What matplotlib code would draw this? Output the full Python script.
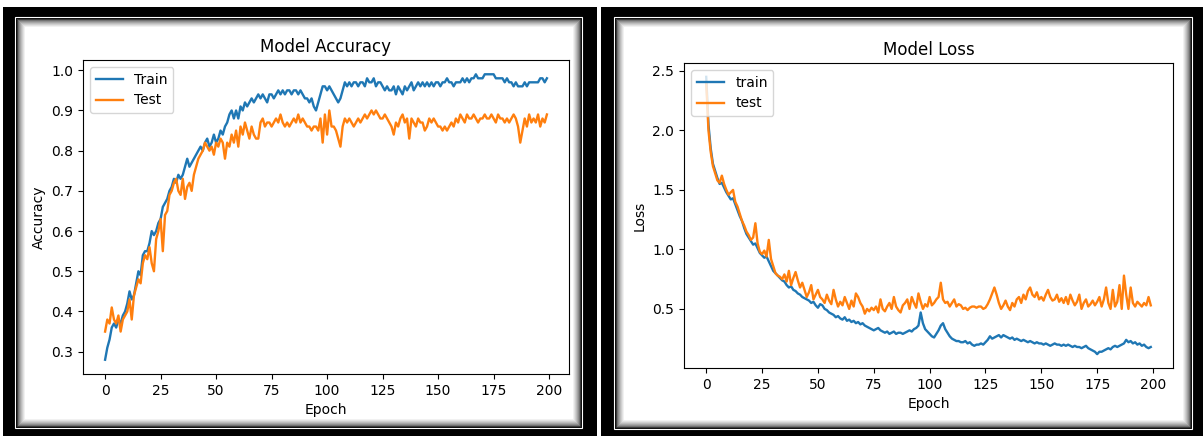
import numpy as np
import matplotlib
matplotlib.use("Agg")
import matplotlib.pyplot as plt
from matplotlib.patches import Rectangle

# values, one per epoch (0..199)
train_acc = [
    0.28, 0.31, 0.33, 0.36, 0.37, 0.36, 0.38, 0.37, 0.39, 0.40,
    0.42, 0.45, 0.43, 0.44, 0.47, 0.50, 0.49, 0.54, 0.55, 0.55,
    0.57, 0.60, 0.59, 0.60, 0.62, 0.63, 0.66, 0.67, 0.68, 0.70,
    0.71, 0.73, 0.72, 0.74, 0.73, 0.74, 0.76, 0.78, 0.76, 0.77,
    0.78, 0.79, 0.80, 0.81, 0.80, 0.82, 0.83, 0.81, 0.82, 0.84,
    0.82, 0.83, 0.85, 0.84, 0.86, 0.87, 0.89, 0.90, 0.88, 0.90,
    0.88, 0.91, 0.90, 0.92, 0.91, 0.92, 0.93, 0.92, 0.93, 0.94,
    0.93, 0.94, 0.93, 0.92, 0.94, 0.94, 0.93, 0.94, 0.95, 0.94,
    0.95, 0.94, 0.95, 0.95, 0.94, 0.95, 0.95, 0.94, 0.95, 0.94,
    0.93, 0.93, 0.92, 0.93, 0.91, 0.90, 0.92, 0.94, 0.96, 0.96,
    0.95, 0.96, 0.95, 0.94, 0.93, 0.92, 0.93, 0.95, 0.97, 0.96,
    0.97, 0.96, 0.97, 0.97, 0.96, 0.97, 0.97, 0.96, 0.98, 0.97,
    0.97, 0.98, 0.96, 0.97, 0.97, 0.96, 0.95, 0.96, 0.95, 0.95,
    0.96, 0.94, 0.96, 0.95, 0.94, 0.96, 0.95, 0.96, 0.97, 0.95,
    0.96, 0.97, 0.96, 0.97, 0.96, 0.97, 0.96, 0.97, 0.96, 0.97,
    0.97, 0.96, 0.97, 0.97, 0.98, 0.97, 0.97, 0.96, 0.97, 0.97,
    0.97, 0.98, 0.97, 0.98, 0.97, 0.98, 0.98, 0.99, 0.98, 0.98,
    0.98, 0.99, 0.99, 0.99, 0.99, 0.99, 0.98, 0.98, 0.98, 0.98,
    0.97, 0.98, 0.97, 0.97, 0.96, 0.97, 0.96, 0.96, 0.96, 0.97,
    0.96, 0.97, 0.97, 0.97, 0.97, 0.97, 0.98, 0.98, 0.97, 0.98,
]
test_acc = [
    0.35, 0.38, 0.37, 0.41, 0.38, 0.37, 0.39, 0.35, 0.38, 0.39,
    0.40, 0.43, 0.38, 0.44, 0.46, 0.48, 0.47, 0.52, 0.54, 0.53,
    0.56, 0.52, 0.50, 0.58, 0.60, 0.63, 0.55, 0.64, 0.65, 0.69,
    0.70, 0.72, 0.73, 0.70, 0.69, 0.73, 0.68, 0.71, 0.72, 0.70,
    0.74, 0.76, 0.78, 0.79, 0.80, 0.82, 0.81, 0.80, 0.81, 0.79,
    0.82, 0.81, 0.83, 0.82, 0.78, 0.82, 0.81, 0.84, 0.82, 0.85,
    0.81, 0.86, 0.84, 0.87, 0.85, 0.83, 0.86, 0.84, 0.83, 0.83,
    0.87, 0.88, 0.86, 0.87, 0.87, 0.86, 0.87, 0.88, 0.87, 0.89,
    0.87, 0.86, 0.87, 0.86, 0.87, 0.88, 0.87, 0.89, 0.87, 0.88,
    0.87, 0.86, 0.86, 0.85, 0.86, 0.86, 0.85, 0.88, 0.82, 0.89,
    0.84, 0.90, 0.86, 0.86, 0.85, 0.83, 0.81, 0.86, 0.88, 0.87,
    0.88, 0.87, 0.86, 0.87, 0.88, 0.87, 0.88, 0.89, 0.88, 0.89,
    0.90, 0.89, 0.90, 0.89, 0.88, 0.88, 0.89, 0.88, 0.87, 0.86,
    0.84, 0.87, 0.86, 0.88, 0.89, 0.87, 0.88, 0.83, 0.88, 0.87,
    0.86, 0.88, 0.87, 0.87, 0.85, 0.86, 0.88, 0.87, 0.88, 0.87,
    0.86, 0.86, 0.85, 0.86, 0.85, 0.86, 0.87, 0.86, 0.88, 0.87,
    0.89, 0.88, 0.87, 0.89, 0.88, 0.88, 0.89, 0.88, 0.87, 0.88,
    0.88, 0.89, 0.88, 0.88, 0.89, 0.88, 0.87, 0.89, 0.88, 0.88,
    0.87, 0.88, 0.87, 0.88, 0.89, 0.88, 0.86, 0.82, 0.85, 0.88,
    0.86, 0.89, 0.87, 0.88, 0.87, 0.89, 0.86, 0.88, 0.87, 0.89,
]
train_loss = [
    2.45, 2.05, 1.85, 1.72, 1.66, 1.60, 1.55, 1.56, 1.52, 1.48,
    1.45, 1.42, 1.43, 1.38, 1.33, 1.28, 1.24, 1.18, 1.13, 1.10,
    1.07, 1.04, 1.05, 1.01, 0.97, 0.95, 0.93, 0.94, 0.90, 0.86,
    0.82, 0.80, 0.78, 0.76, 0.74, 0.73, 0.70, 0.68, 0.69, 0.66,
    0.65, 0.63, 0.62, 0.60, 0.59, 0.58, 0.57, 0.55, 0.56, 0.53,
    0.51, 0.54, 0.53, 0.50, 0.49, 0.47, 0.46, 0.45, 0.43, 0.44,
    0.42, 0.41, 0.43, 0.40, 0.41, 0.39, 0.40, 0.38, 0.39, 0.37,
    0.38, 0.36, 0.35, 0.34, 0.33, 0.32, 0.33, 0.34, 0.32, 0.31,
    0.30, 0.31, 0.29, 0.30, 0.31, 0.29, 0.30, 0.30, 0.29, 0.30,
    0.31, 0.32, 0.31, 0.33, 0.34, 0.36, 0.47, 0.38, 0.33, 0.31,
    0.29, 0.27, 0.26, 0.29, 0.32, 0.36, 0.38, 0.33, 0.30, 0.27,
    0.25, 0.24, 0.23, 0.23, 0.22, 0.22, 0.23, 0.21, 0.22, 0.20,
    0.19, 0.20, 0.20, 0.21, 0.20, 0.22, 0.24, 0.27, 0.25, 0.26,
    0.27, 0.28, 0.26, 0.28, 0.27, 0.26, 0.25, 0.26, 0.24, 0.25,
    0.24, 0.23, 0.24, 0.23, 0.22, 0.23, 0.22, 0.21, 0.22, 0.21,
    0.21, 0.20, 0.21, 0.20, 0.19, 0.20, 0.21, 0.20, 0.20, 0.19,
    0.20, 0.19, 0.20, 0.19, 0.18, 0.19, 0.18, 0.18, 0.17, 0.18,
    0.19, 0.17, 0.16, 0.15, 0.14, 0.12, 0.14, 0.14, 0.15, 0.16,
    0.17, 0.16, 0.18, 0.19, 0.18, 0.19, 0.20, 0.21, 0.24, 0.22,
    0.23, 0.21, 0.22, 0.20, 0.21, 0.19, 0.20, 0.18, 0.17, 0.18,
]
test_loss = [
    2.40, 2.00, 1.82, 1.70, 1.64, 1.58, 1.56, 1.62, 1.55, 1.50,
    1.46, 1.48, 1.50, 1.40, 1.36, 1.30, 1.24, 1.20, 1.15, 1.12,
    1.08, 1.10, 1.22, 1.05, 0.98, 0.96, 0.99, 0.94, 1.08, 0.92,
    0.86, 0.80, 0.78, 0.77, 0.75, 0.79, 0.73, 0.82, 0.70, 0.76,
    0.81, 0.74, 0.68, 0.72, 0.66, 0.60, 0.64, 0.70, 0.58, 0.62,
    0.66, 0.60, 0.58, 0.55, 0.62, 0.57, 0.54, 0.66, 0.58, 0.52,
    0.56, 0.53, 0.60, 0.55, 0.50, 0.57, 0.52, 0.63, 0.60, 0.55,
    0.52, 0.46, 0.50, 0.48, 0.51, 0.49, 0.52, 0.47, 0.58, 0.50,
    0.48, 0.52, 0.55, 0.50, 0.60, 0.52, 0.49, 0.47, 0.53, 0.55,
    0.58, 0.50, 0.60, 0.55, 0.51, 0.63, 0.56, 0.50, 0.54, 0.52,
    0.60, 0.53, 0.55, 0.58, 0.60, 0.72, 0.58, 0.55, 0.56, 0.52,
    0.55, 0.58, 0.52, 0.54, 0.53, 0.50, 0.51, 0.49, 0.51, 0.52,
    0.52, 0.51, 0.52, 0.52, 0.50, 0.51, 0.54, 0.58, 0.63, 0.68,
    0.62, 0.55, 0.50, 0.53, 0.57, 0.52, 0.49, 0.55, 0.52, 0.58,
    0.60, 0.55, 0.62, 0.58, 0.65, 0.68, 0.62, 0.60, 0.64, 0.58,
    0.60, 0.57, 0.62, 0.66, 0.60, 0.57, 0.58, 0.62, 0.56, 0.59,
    0.55, 0.60, 0.54, 0.62, 0.57, 0.53, 0.56, 0.62, 0.50, 0.55,
    0.58, 0.52, 0.54, 0.57, 0.53, 0.56, 0.60, 0.52, 0.58, 0.68,
    0.55, 0.50, 0.66, 0.52, 0.56, 0.70, 0.50, 0.78, 0.62, 0.50,
    0.68, 0.55, 0.52, 0.56, 0.54, 0.52, 0.55, 0.53, 0.60, 0.53,
]
epochs = np.arange(len(train_acc))

W, H = 1203, 436
fig = plt.figure(figsize=(W / 100, H / 100), dpi=100)
fig.patch.set_facecolor("white")

# background layer in pixel coords for the black picture frames
bg = fig.add_axes([0, 0, 1, 1], zorder=-1)
bg.set_xlim(0, W)
bg.set_ylim(H, 0)
bg.axis("off")


def frame(x0, y0, x1, y1, ix0, iy0, ix1, iy1):
    bg.add_patch(Rectangle((x0, y0), x1 - x0, y1 - y0, color="black", lw=0))
    bg.add_patch(Rectangle((ix0 - 2, iy0 - 2), ix1 - ix0 + 4, iy1 - iy0 + 4,
                           fc="none", ec="white", lw=0.8))
    bg.add_patch(Rectangle((ix0, iy0), ix1 - ix0, iy1 - iy0, color="white", lw=0))
    # soft grey inner shadow
    for i in range(9):
        g = 0.2 + 0.8 * (i / 8) ** 0.6
        bg.add_patch(Rectangle((ix0 + i, iy0 + i), ix1 - ix0 - 2 * i, iy1 - iy0 - 2 * i,
                               fc="none", ec=(g, g, g), lw=0.9))


frame(3, 7, 597, 436, 17, 19, 580, 426)
frame(601, 7, 1203, 436, 616, 19, 1190, 427)

# accuracy panel
ax1 = fig.add_axes([83 / W, 1 - 374 / H, 486 / W, 314 / H])
ax1.plot(epochs, train_acc, label="Train", lw=1.7)
ax1.plot(epochs, test_acc, label="Test", lw=1.7)
ax1.set_title("Model Accuracy")
ax1.set_ylabel("Accuracy")
ax1.set_xlabel("Epoch")
ax1.legend(loc="upper left")

# loss panel
ax2 = fig.add_axes([684 / W, 1 - 368 / H, 489 / W, 305 / H])
ax2.plot(epochs, train_loss, label="train", lw=1.7)
ax2.plot(epochs, test_loss, label="test", lw=1.7)
ax2.set_title("Model Loss")
ax2.set_ylabel("Loss")
ax2.set_xlabel("Epoch")
ax2.legend(loc="upper left")

fig.savefig("out.png", dpi=100)
